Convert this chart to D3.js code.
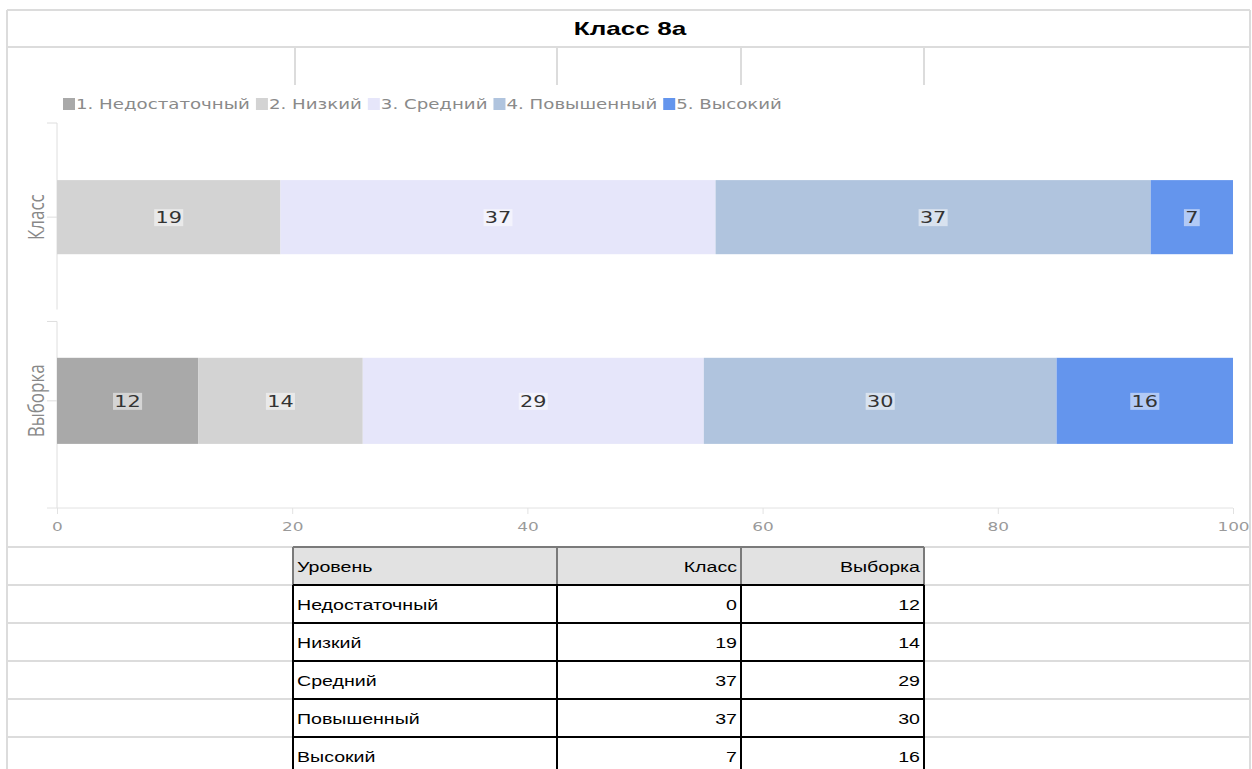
<!DOCTYPE html>
<html>
<head>
<meta charset="utf-8">
<script src="https://cdn.jsdelivr.net/npm/d3@7"></script>
<style>
  body { margin: 0; background: #fff; }
  svg { display: block; }
</style>
</head>
<body>
<svg width="1252" height="769"></svg>
<script>
// data
var title = 'Класс 8а';
var levels = ['Недостаточный', 'Низкий', 'Средний', 'Повышенный', 'Высокий'];
var groups = ['Класс', 'Выборка'];
var klass = [0, 19, 37, 37, 7];
var vyborka = [12, 14, 29, 30, 16];
var xTicks = [0, 20, 40, 60, 80, 100];
var tableHead = ['Уровень', 'Класс', 'Выборка'];
var colors = ['#a9a9a9', '#d3d3d3', '#e6e6fa', '#b0c4de', '#6495ed'];

var svg = d3.select('svg');
var gridColor = '#dcdcdc';
var sx = 1.3;  // chart text in the reference is stretched sideways
var tsx = 1.4; // same for the sheet text

// ---- spreadsheet grid around the chart ----
var grid = svg.append('g').attr('stroke', gridColor).attr('stroke-width', 2);
grid.append('line').attr('x1', 7).attr('x2', 1250).attr('y1', 10).attr('y2', 10);
grid.append('line').attr('x1', 7).attr('x2', 1250).attr('y1', 47).attr('y2', 47);
grid.append('line').attr('x1', 7).attr('x2', 7).attr('y1', 10).attr('y2', 769);
grid.append('line').attr('x1', 1250).attr('x2', 1250).attr('y1', 10).attr('y2', 769);
[295, 557, 741, 924].forEach(function(x) {
  grid.append('line').attr('x1', x).attr('x2', x).attr('y1', 47).attr('y2', 85);
});

svg.append('text')
    .attr('transform', 'translate(630,29) scale(1.45,1)')
    .attr('text-anchor', 'middle').attr('dominant-baseline', 'central')
    .style('font-family', 'Liberation Sans, Arial, sans-serif')
    .style('font-weight', 'bold').style('font-size', '18px')
    .text(title);

// ---- chart ----
var chart = svg.append('g');

// axis stops at 100, the sample row (sum 101) is cut there
var x = d3.scaleLinear().domain([0, 100]).range([57, 1233]).clamp(true);
var y = d3.scaleBand().domain(groups).range([122, 496]).paddingInner(0.564).paddingOuter(0.3);
var yOuter = d3.scaleBand().domain(groups).range([123, 508]).paddingInner(0.06);

var rows = groups.map(function(g, i) {
  var r = {group: g};
  levels.forEach(function(l, j) { r[l] = (i === 0 ? klass : vyborka)[j]; });
  return r;
});
var series = d3.stack().keys(levels)(rows);

// y axis segments
var ya = chart.append('g').attr('stroke', '#dedede').attr('stroke-width', 1);
groups.forEach(function(g) {
  ya.append('line').attr('x1', x(0)).attr('x2', x(0))
      .attr('y1', yOuter(g)).attr('y2', yOuter(g) + yOuter.bandwidth());
  ya.append('line').attr('x1', x(0) - 10).attr('x2', x(0))
      .attr('y1', yOuter(g)).attr('y2', yOuter(g));
  ya.append('line').attr('x1', x(0) - 10).attr('x2', x(0))
      .attr('y1', y(g) + y.bandwidth() / 2).attr('y2', y(g) + y.bandwidth() / 2);
});

// x axis
var xAxis = chart.append('g')
    .attr('transform', 'translate(0,508)')
    .call(d3.axisBottom(x).tickValues(xTicks).tickSize(6).tickPadding(8));
xAxis.select('.domain').remove();
xAxis.append('line').attr('x1', x(0) - 10).attr('x2', x(100)).attr('stroke', '#e2e2e2');
xAxis.selectAll('.tick line').attr('stroke', '#e2e2e2');
xAxis.selectAll('.tick text')
    .attr('fill', '#9a9a9a')
    .attr('transform', 'scale(' + sx + ',1)')
    .style('font-family', 'DejaVu Sans, sans-serif')
    .style('font-size', '13px');

// bars
var layer = chart.selectAll('g.layer')
  .data(series)
  .enter().append('g')
    .attr('class', 'layer')
    .attr('fill', function(d, i) { return colors[i]; });

layer.selectAll('rect')
  .data(function(d) { return d; })
  .enter().append('rect')
    .attr('x', function(d) { return x(d[0]); })
    .attr('width', function(d) { return x(d[1]) - x(d[0]); })
    .attr('y', function(d) { return y(d.data.group) + (d.data.group === groups[0] ? 3 : -3); })
    .attr('height', function(d) { return y.bandwidth() + (d.data.group === groups[0] ? -6 : 6); });

// value labels
series.forEach(function(s) {
  s.forEach(function(d) {
    var v = d.data[s.key];
    if (!v) return;
    var cx = (x(d[0]) + x(d[1])) / 2;
    var g = chart.append('g')
        .attr('transform', 'translate(' + cx + ',' + (y(d.data.group) + y.bandwidth() / 2) + ') scale(' + sx + ',1)');
    var bg = g.append('rect').attr('fill', '#fff').attr('fill-opacity', 0.5);
    var t = g.append('text')
        .attr('text-anchor', 'middle').attr('dy', '0.36em')
        .attr('fill', '#333')
        .style('font-family', 'DejaVu Sans, sans-serif').style('font-size', '16px')
        .text(v);
    var w = t.node().getComputedTextLength();
    bg.attr('x', -w / 2 - 1).attr('width', w + 2).attr('y', -8).attr('height', 17);
  });
});

// category labels
groups.forEach(function(g) {
  chart.append('text')
      .attr('transform', 'translate(36,' + (y(g) + y.bandwidth() / 2) + ') scale(' + sx + ',1) rotate(-90)')
      .attr('text-anchor', 'middle').attr('dominant-baseline', 'central')
      .attr('fill', '#888')
      .style('font-family', 'Open Sans, sans-serif').style('font-size', '17px')
      .text(g);
});

// legend
var lx = 63;
levels.forEach(function(l, i) {
  var item = chart.append('g').attr('transform', 'translate(' + lx + ',104)');
  item.append('rect').attr('x', 0).attr('y', -6).attr('width', 12).attr('height', 12).attr('fill', colors[i]);
  var t = item.append('text')
      .attr('transform', 'translate(13,0) scale(' + sx + ',1)')
      .attr('dy', '0.36em').attr('fill', '#8a8a8a')
      .style('font-family', 'DejaVu Sans, sans-serif').style('font-size', '14px')
      .text((i + 1) + '. ' + l);
  lx += 13 + t.node().getComputedTextLength() * sx + 6;
});

// ---- table ----
var colX = [293, 557, 741, 924];
var rowY = d3.range(7).map(function(i) { return 547 + i * 38; });
var tg = svg.append('g');

rowY.forEach(function(yy) {
  tg.append('line').attr('x1', 7).attr('x2', colX[0]).attr('y1', yy).attr('y2', yy)
      .attr('stroke', gridColor).attr('stroke-width', 2);
  tg.append('line').attr('x1', colX[3]).attr('x2', 1250).attr('y1', yy).attr('y2', yy)
      .attr('stroke', gridColor).attr('stroke-width', 2);
});

tg.append('rect').attr('x', colX[0]).attr('y', rowY[0]).attr('width', colX[3] - colX[0]).attr('height', 38)
    .attr('fill', '#e2e2e2');

var tableRows = [tableHead].concat(levels.map(function(l, i) { return [l, klass[i], vyborka[i]]; }));

tableRows.forEach(function(r, ri) {
  var top = rowY[ri], bot = rowY[ri + 1];
  var stroke = ri === 0 ? '#7a7a7a' : '#000';
  tg.append('line').attr('x1', colX[0]).attr('x2', colX[3]).attr('y1', top).attr('y2', top)
      .attr('stroke', stroke).attr('stroke-width', 2);
  colX.forEach(function(cx) {
    tg.append('line').attr('x1', cx).attr('x2', cx).attr('y1', top).attr('y2', bot)
        .attr('stroke', stroke).attr('stroke-width', 2);
  });
  r.forEach(function(v, ci) {
    var tx = ci === 0 ? colX[0] + 4 : colX[ci + 1] - 4;
    tg.append('text')
        .attr('transform', 'translate(' + tx + ',' + ((top + bot) / 2 + 1) + ') scale(' + tsx + ',1)')
        .attr('text-anchor', ci === 0 ? 'start' : 'end')
        .attr('dominant-baseline', 'central')
        .style('font-family', 'Liberation Sans, Arial, sans-serif').style('font-size', '14px')
        .text(v);
  });
});
</script>
</body>
</html>
